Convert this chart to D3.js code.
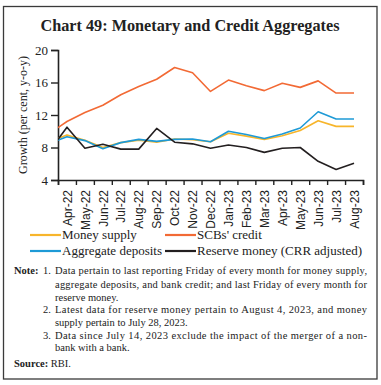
<!DOCTYPE html>
<html><head><meta charset="utf-8">
<script src="https://cdn.jsdelivr.net/npm/d3@7"></script>
<style>
html,body{margin:0;padding:0;background:#fff;}
svg{display:block;font-family:"Liberation Serif","DejaVu Serif",serif;}
</style></head>
<body><svg id="c" width="381" height="385"></svg>
<script>
// ---- data ----
const categories = ["Mar-22","Apr-22","May-22","Jun-22","Jul-22","Aug-22","Sep-22","Oct-22","Nov-22","Dec-22","Jan-23","Feb-23","Mar-23","Apr-23","May-23","Jun-23","Jul-23","Aug-23"];
const tickLabels = ["Apr-22","May-22","Jun-22","Jul-22","Aug-22","Sep-22","Oct-22","Nov-22","Dec-22","Jan-23","Feb-23","Mar-23","Apr-23","May-23","Jun-23","Jul-23","Aug-23"];
const moneySupply = [8.7, 9.55, 8.9, 8.0, 8.6, 8.9, 8.65, 9.05, 8.95, 8.7, 9.75, 9.4, 9.0, 9.45, 10.1, 11.3, 10.6, 10.6];
const scbCredit   = [9.7, 11.2, 12.3, 13.2, 14.5, 15.5, 16.4, 17.85, 17.2, 14.9, 16.3, 15.6, 15.0, 15.9, 15.4, 16.2, 14.7, 14.7];
const aggDeposits = [8.5, 9.33, 8.85, 7.85, 8.6, 9.0, 8.75, 9.0, 9.05, 8.7, 10.0, 9.6, 9.1, 9.65, 10.4, 12.4, 11.5, 11.5];
const reserveMoney= [7.5, 10.5, 7.9, 8.4, 7.8, 7.8, 10.35, 8.65, 8.45, 7.9, 8.3, 8.0, 7.4, 7.9, 8.0, 6.3, 5.3, 6.05];
const yTicks = [4, 8, 12, 16, 20];
const seriesNames = ["Money supply","SCBs' credit","Aggregate deposits","Reserve money (CRR adjusted)"];
const notes = [
  {num:"1.", lines:["Data pertain to last reporting Friday of every month for money supply,","aggregate deposits, and bank credit; and last Friday of every month for","reserve money."]},
  {num:"2.", lines:["Latest data for reserve money pertain to August 4, 2023, and money","supply pertain to July 28, 2023."]},
  {num:"3.", lines:["Data since July 14, 2023 exclude the impact of the merger of a non-","bank with a bank."]}
];

const colors = {ms:"#F7B52B", scb:"#F26A35", ad:"#1E9AD6", rm:"#231F20"};
const svg = d3.select("#c");

// frame
svg.append("rect").attr("x",3.5).attr("y",6.5).attr("width",373.5).attr("height",372.5)
  .attr("fill","none").attr("stroke","#3a3a3a").attr("stroke-width",1.3);

// title
svg.append("text").attr("x",190).attr("y",31).attr("text-anchor","middle")
  .attr("font-size",16.5).attr("font-weight","bold").attr("fill","#222")
  .attr("textLength",299).attr("lengthAdjust","spacingAndGlyphs")
  .text("Chart 49: Monetary and Credit Aggregates");

const L=58, R=363, T=50, B=180;
const x = d3.scaleLinear().domain([-0.5, tickLabels.length-0.5]).range([L,R]);
const y = d3.scaleLinear().domain([4,20]).range([B,T]);

// y axis
const ya = svg.append("g").attr("transform",`translate(${L},0)`)
  .call(d3.axisLeft(y).tickValues(yTicks).tickSize(7).tickPadding(3));
ya.select(".domain").attr("stroke","#222").attr("stroke-width",1.6);
ya.selectAll(".tick line").attr("stroke","#222").attr("stroke-width",1.4);
ya.selectAll(".tick text").attr("font-size",13).attr("fill","#222").attr("font-family","Liberation Serif, serif");

// x axis (ticks at boundaries)
const bounds = d3.range(tickLabels.length+1).map(i=>i-0.5);
const xa = svg.append("g").attr("transform",`translate(0,${B})`)
  .call(d3.axisBottom(x).tickValues(bounds).tickSize(5).tickFormat(""));
xa.select(".domain").attr("stroke","#222").attr("stroke-width",1.6);
xa.selectAll(".tick line").attr("stroke","#222").attr("stroke-width",1.4);
// x labels
const xl = svg.append("g").attr("transform",`translate(0,${B})`)
  .call(d3.axisBottom(x).tickValues(d3.range(tickLabels.length)).tickSize(0).tickFormat(i=>tickLabels[i]));
xl.select(".domain").remove();
xl.selectAll(".tick text").attr("font-size",12).attr("fill","#222")
  .attr("transform","rotate(-90)").attr("text-anchor","end")
  .attr("x",-10).attr("y",0).attr("dy","0.35em");

// y label
svg.append("text").attr("transform","translate(27,115) rotate(-90)").attr("text-anchor","middle")
  .attr("font-size",12).attr("fill","#222").text("Growth (per cent, y-o-y)");

// clip
svg.append("clipPath").attr("id","pc").append("rect").attr("x",L).attr("y",T-5).attr("width",R-L).attr("height",B-T+5);

const line = d3.line().x((d,i)=>x(i-1)).y(d=>y(d));
const series = [
  {v:moneySupply,c:colors.ms},
  {v:scbCredit,c:colors.scb},
  {v:aggDeposits,c:colors.ad},
  {v:reserveMoney,c:colors.rm}
];
const g = svg.append("g").attr("clip-path","url(#pc)");
series.forEach(s=>{
  g.append("path").datum(s.v).attr("d",line).attr("fill","none")
   .attr("stroke",s.c).attr("stroke-width",1.6).attr("stroke-linejoin","round");
});

// legend
const leg = [
  {name:seriesNames[0],c:colors.ms,x:30,y:235},
  {name:seriesNames[1],c:colors.scb,x:165,y:235},
  {name:seriesNames[2],c:colors.ad,x:30,y:251},
  {name:seriesNames[3],c:colors.rm,x:165,y:251}
];
leg.forEach(l=>{
  svg.append("line").attr("x1",l.x).attr("x2",l.x+31).attr("y1",l.y).attr("y2",l.y)
    .attr("stroke",l.c).attr("stroke-width",2.2);
  svg.append("text").attr("x",l.x+32).attr("y",l.y+4).attr("font-size",13).attr("fill","#222").text(l.name);
});

// notes
svg.append("text").attr("x",14).attr("y",274.3).attr("font-size",10.5).attr("font-weight","bold").attr("fill","#222").text("Note:");
const baselines = [274.3, 287.9, 300.6, 313.3, 326, 338.5, 351.3];
let li = 0;
notes.forEach(n=>{
  svg.append("text").attr("x",43).attr("y",baselines[li]).attr("font-size",10.5).attr("fill","#222").text(n.num);
  n.lines.forEach((t,k)=>{
    const tt = svg.append("text").attr("x",55).attr("y",baselines[li]).attr("font-size",10.5).attr("fill","#222").text(t);
    if(k < n.lines.length-1) tt.attr("textLength",312).attr("lengthAdjust","spacing");
    li++;
  });
});
const src = svg.append("text").attr("x",14).attr("y",366.7).attr("font-size",10.5).attr("fill","#222");
src.append("tspan").attr("font-weight","bold").text("Source: ");
src.append("tspan").text("RBI.");
</script></body></html>
